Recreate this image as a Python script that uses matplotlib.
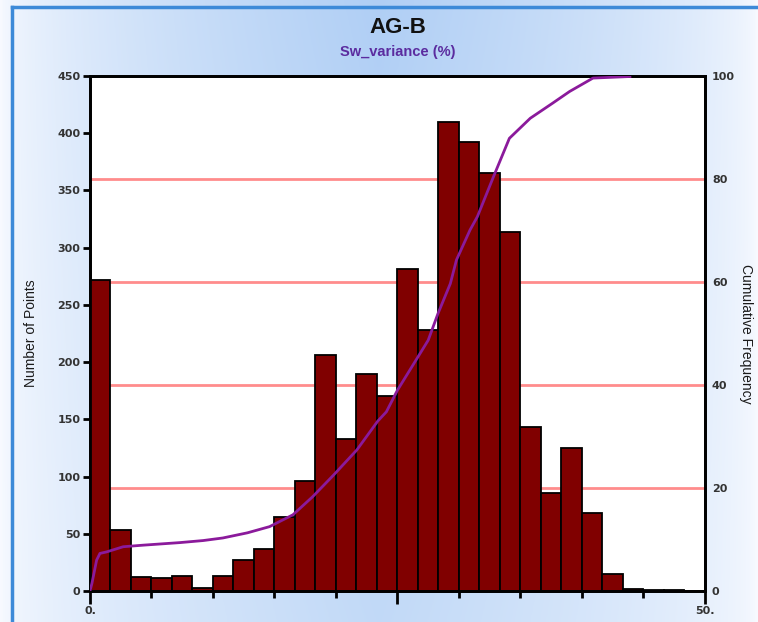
import numpy as np
import matplotlib
matplotlib.use('Agg')
import matplotlib.pyplot as plt

# histogram of Sw_variance, 30 bins over 0..50
counts = [272, 53, 12, 11, 13, 3, 13, 27, 37, 65,
          96, 206, 133, 190, 170, 281, 228, 410, 392, 365,
          314, 143, 86, 125, 68, 15, 2, 1, 1, 0]
x_min, x_max = 0, 50

# cumulative frequency curve
cum_x = [0.0, 0.16, 0.54, 0.81, 1.36, 2.7, 4.3, 7.3, 9.2, 10.8, 12.8, 14.6,
         16.5, 18.1, 19.8, 21.7, 23.4, 24.1, 25.0, 26.6, 27.5, 28.3, 29.3,
         29.8, 30.9, 31.5, 32.8, 34.1, 35.8, 37.6, 39.0, 40.9, 43.9]
cum_y = [0.0, 1.5, 6.0, 7.3, 7.6, 8.6, 8.9, 9.4, 9.8, 10.3, 11.3, 12.5,
         14.8, 18.3, 22.5, 27.4, 33.0, 34.8, 39.0, 45.2, 48.7, 53.9, 59.7,
         64.3, 70.1, 72.7, 80.4, 87.9, 91.8, 94.7, 97.0, 99.6, 99.9]

left_ticks = list(range(0, 451, 50))
right_ticks = list(range(0, 101, 20))
grid_levels = [20, 40, 60, 80]

fig = plt.figure(figsize=(7.58, 6.22), dpi=100)

# light blue gradient background
bg = fig.add_axes([0, 0, 1, 1], zorder=-10)
gx = np.linspace(0, 1, 300)
gy = np.linspace(0, 1, 250)
X, Y = np.meshgrid(gx, gy)
t = np.clip(1 - np.abs(X - 0.5) * 2.0, 0, 1) ** 0.6
t = t * (0.75 + 0.25 * Y)
white = np.array([0.97, 0.98, 1.0])
blue = np.array([0.69, 0.81, 0.96])
img = white[None, None, :] * (1 - t[..., None]) + blue[None, None, :] * t[..., None]
bg.imshow(img, extent=[0, 1, 0, 1], aspect='auto', origin='lower')
bg.plot([0.016, 0.016], [0, 0.989], color='#3d8ad8', lw=2.5, transform=bg.transAxes)
bg.plot([0.016, 1], [0.989, 0.989], color='#3d8ad8', lw=2.5, transform=bg.transAxes)
bg.set_xlim(0, 1)
bg.set_ylim(0, 1)
bg.axis('off')

ax = fig.add_axes([0.1187, 0.0498, 0.8113, 0.8280])
ax.set_facecolor('white')
ax.set_xlim(x_min, x_max)
ax.set_ylim(0, 450)

edges = np.linspace(x_min, x_max, len(counts) + 1)
ax.bar(edges[:-1], counts, width=edges[1] - edges[0], align='edge',
       color='#800000', edgecolor='black', linewidth=1.3, zorder=3)

# red gridlines belong to the right (cumulative) axis but sit behind the bars
for g in grid_levels:
    ax.axhline(g * 450 / 100, color='#ff8c8c', lw=2, zorder=1)

for s in ax.spines.values():
    s.set_linewidth(2)

tick_font = dict(fontsize=8, fontweight='bold', color='#333333')
ax.set_yticks(left_ticks)
ax.set_yticklabels([str(v) for v in left_ticks], **tick_font)
ax.tick_params(axis='y', direction='out', length=5, width=2, pad=2)
ax.set_xticks([0, 25, 50])
ax.set_xticklabels(['0.', '', '50.'], **tick_font)
ax.set_xticks([5, 10, 15, 20, 30, 35, 40, 45], minor=True)
ax.tick_params(axis='x', which='major', direction='out', length=9, width=2, pad=2)
ax.tick_params(axis='x', which='minor', direction='out', length=5, width=2)
ax.set_ylabel('Number of Points', family=['Liberation Sans', 'DejaVu Sans'],
              fontsize=10, color='#1a1a1a', labelpad=14)

ax2 = ax.twinx()
ax2.set_ylim(0, 100)
ax2.plot(cum_x, cum_y, color='#8b1a9b', lw=2, zorder=4)
ax2.set_yticks(right_ticks)
ax2.set_yticklabels([str(v) for v in right_ticks], **tick_font)
ax2.tick_params(axis='y', direction='out', length=0, pad=5)
for s in ax2.spines.values():
    s.set_linewidth(2)
ax2.set_ylabel('Cumulative Frequency', family=['Liberation Sans', 'DejaVu Sans'],
               fontsize=10, color='#1a1a1a', rotation=270, labelpad=13)

fig.text(0.525, 0.956, 'AG-B', ha='center', va='center', fontsize=16,
         fontweight='bold', family=['Liberation Sans', 'DejaVu Sans'], color='#111111')
fig.text(0.525, 0.916, 'Sw_variance (%)', ha='center', va='center', fontsize=10.5,
         fontweight='bold', family=['Liberation Sans', 'DejaVu Sans'], color='#5b2c9f')

fig.savefig('out.png', dpi=100)
